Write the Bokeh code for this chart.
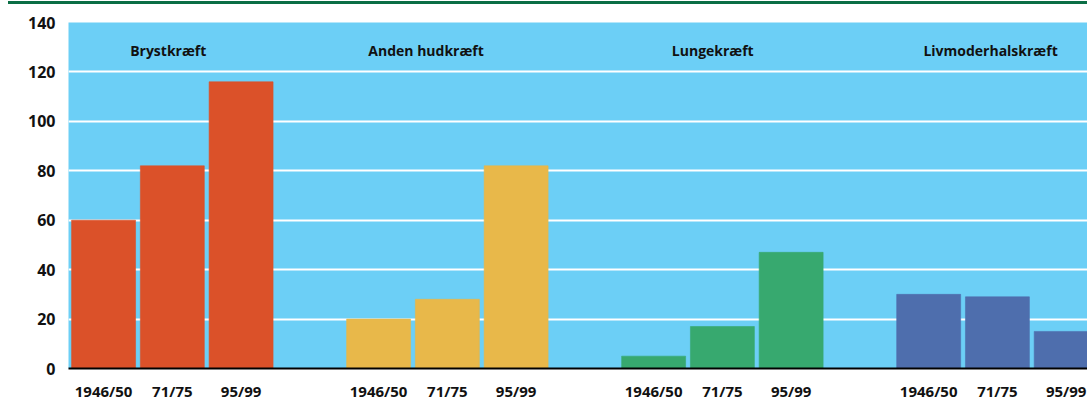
from bokeh.plotting import figure
from bokeh.models import FixedTicker, Div, ColumnDataSource, Range1d
from bokeh.layouts import column
from bokeh.embed import file_html
from bokeh.resources import INLINE
from bokeh.core.properties import value

categories = ["Brystkræft", "Anden hudkræft", "Lungekræft", "Livmoderhalskræft"]
periods = ["1946/50", "71/75", "95/99"]
bryst = [60, 82, 116]
hud = [20, 28, 82]
lunge = [5, 17, 47]
livmoder = [30, 29, 15]
series = [bryst, hud, lunge, livmoder]
colors = ["#DB5129", "#E8B84A", "#37A96F", "#4E6EAD"]
title_offset = [1.45, 1.2, 1.37, 1.41]  # title centre within each group (slot units)

FONT = "Open Sans"

xs, tops, cols, tick_pos, tick_lab = [], [], [], [], []
for g, vals in enumerate(series):
    for i, v in enumerate(vals):
        x = 4 * g + i + 0.51
        xs.append(x)
        tops.append(v)
        cols.append(colors[g])
        tick_pos.append(x)
        tick_lab.append(periods[i])

src = ColumnDataSource(dict(x=xs, top=tops, color=cols))

p = figure(width=1079, height=403, output_backend="svg", toolbar_location=None,
           x_range=Range1d(0, 14.82), y_range=Range1d(0, 140),
           min_border_left=60, min_border_right=0, min_border_top=18, min_border_bottom=39,
           margin=0)
p.background_fill_color = "#6CCFF6"
p.border_fill_color = "white"
p.outline_line_color = None

p.vbar(x="x", top="top", width=0.93, bottom=0, fill_color="color", line_color="color",
       line_alpha=0.6, source=src)

tsrc = ColumnDataSource(dict(x=[4 * g + o for g, o in enumerate(title_offset)],
                             y=[128.7] * 4, t=categories))
p.text(x="x", y="y", text="t", source=tsrc, text_align="center", text_baseline="middle",
       text_font=value(FONT), text_font_style="bold", text_font_size="14px", text_color="#111111")

p.xgrid.visible = False
p.ygrid.grid_line_color = "white"
p.ygrid.grid_line_width = 2
p.ygrid.ticker = FixedTicker(ticks=list(range(0, 141, 20)))

p.yaxis.ticker = FixedTicker(ticks=list(range(0, 141, 20)))
p.yaxis.axis_line_color = None
p.yaxis.major_tick_line_color = None
p.yaxis.minor_tick_line_color = None
p.yaxis.major_tick_out = 0
p.yaxis.minor_tick_out = 0
p.yaxis.major_label_standoff = 13
p.yaxis.major_label_text_font = FONT
p.yaxis.major_label_text_font_style = "bold"
p.yaxis.major_label_text_font_size = "16px"
p.yaxis.major_label_text_color = "#111111"

p.xaxis.ticker = FixedTicker(ticks=tick_pos)
p.xaxis.major_label_overrides = {t: l for t, l in zip(tick_pos, tick_lab)}
p.xaxis.axis_line_color = "black"
p.xaxis.axis_line_width = 2
p.xaxis.major_tick_line_color = None
p.xaxis.minor_tick_line_color = None
p.xaxis.major_tick_out = 0
p.xaxis.minor_tick_out = 0
p.xaxis.major_label_standoff = 12
p.xaxis.major_label_text_font = FONT
p.xaxis.major_label_text_font_style = "bold"
p.xaxis.major_label_text_font_size = "15px"
p.xaxis.major_label_text_color = "#111111"

bar = Div(text="", width=1079, height=3, margin=0,
          styles={"background-color": "#0B6E45"})
layout = column(bar, p, spacing=0, margin=(1, 0, 0, 8))

open("out.html", "w").write(file_html(layout, INLINE))
